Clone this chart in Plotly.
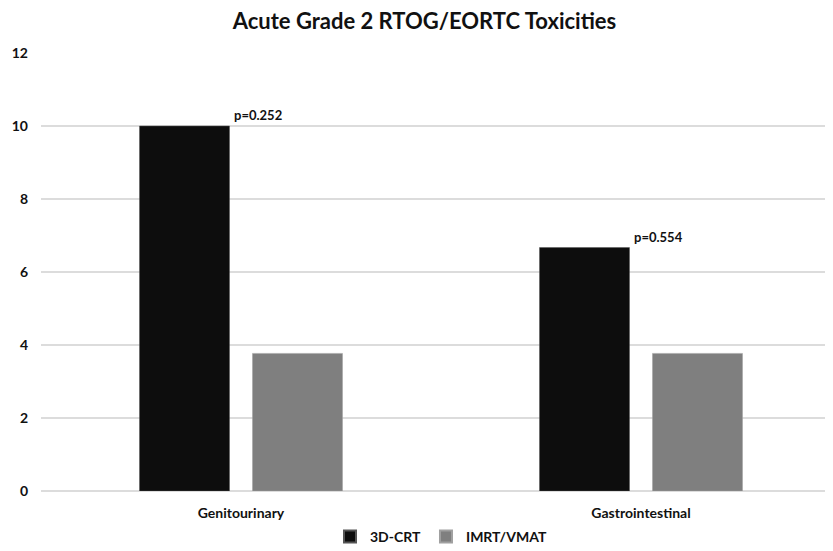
import plotly.graph_objects as go

categories = ["Genitourinary", "Gastrointestinal"]
series_names = ["3D-CRT", "IMRT/VMAT"]
crt_values = [10.0, 6.67]
imrt_values = [3.77, 3.77]
p_labels = ["p=0.252", "p=0.554"]
y_ticks = [0, 2, 4, 6, 8, 10, 12]

FONT = "Lato"

fig = go.Figure()
fig.add_trace(go.Bar(name=series_names[0], x=categories, y=crt_values,
                     marker=dict(color="#0d0d0d", line=dict(color="#555555", width=0.5))))
fig.add_trace(go.Bar(name=series_names[1], x=categories, y=imrt_values,
                     marker=dict(color="#7f7f7f", line=dict(color="#a0a0a0", width=0.5))))

for cat, val, lab in zip(categories, crt_values, p_labels):
    fig.add_annotation(x=cat, y=val, text=lab, showarrow=False, xref="x", yref="y",
                       xanchor="left", yanchor="bottom", xshift=-9, yshift=1,
                       font=dict(family=FONT, size=13, color="#111111", weight="bold"))

fig.update_layout(
    width=833, height=551,
    paper_bgcolor="white", plot_bgcolor="white",
    margin=dict(l=33, r=0, t=45, b=68),
    barmode="group", bargap=0.435, bargroupgap=0.2035,
    title=dict(text="<b>Acute Grade 2 RTOG/EORTC Toxicities</b>", x=0.5, xanchor="center",
               y=0.975, yanchor="middle",
               font=dict(family=FONT, size=22, color="#111111")),
    font=dict(family=FONT, color="#111111"),
    legend=dict(orientation="h", x=0.5, xanchor="center", y=-0.105, yanchor="middle",
                font=dict(family=FONT, size=14, weight="bold", color="#111111"),
                itemwidth=30, itemsizing="constant", traceorder="normal"),
    xaxis=dict(showgrid=False, showline=False, ticks="", ticklabelstandoff=12,
               tickfont=dict(family=FONT, size=14, weight="bold", color="#111111")),
    yaxis=dict(range=[0, 12], tickvals=y_ticks, showgrid=True, gridcolor="#dcdcdc",
               gridwidth=1.5, zeroline=True, zerolinecolor="#dcdcdc", zerolinewidth=1.5,
               showline=False, ticks="", ticklabelstandoff=12,
               tickfont=dict(family=FONT, size=14, weight="bold", color="#111111")),
)

fig.write_html("out.html")
